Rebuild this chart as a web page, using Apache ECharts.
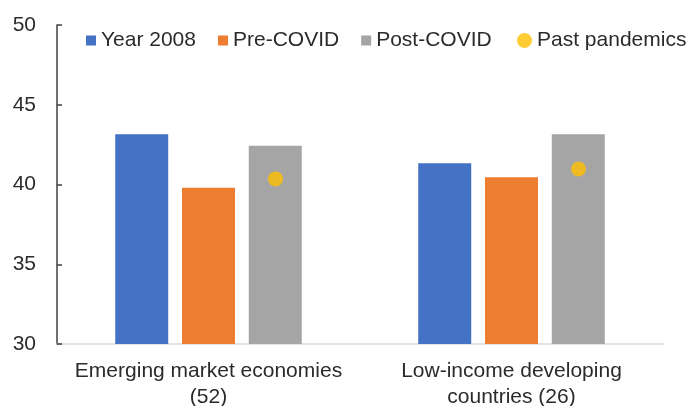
<!DOCTYPE html>
<html><head><meta charset="utf-8">
<script src="https://cdn.jsdelivr.net/npm/echarts@6/dist/echarts.min.js"></script>
<style>html,body{margin:0;padding:0;background:#fff}#c{width:689px;height:406px}</style>
</head><body><div id="c"></div>
<script>
var categories = ['Emerging market economies\n(52)', 'Low-income developing\ncountries (26)'];
var year2008 = [43.15, 41.33];
var preCovid = [39.8, 40.45];
var postCovid = [42.43, 43.15];
var pastPandemics = [40.35, 40.97];
var yTicks = [30, 35, 40, 45, 50];

var font = 'Liberation Sans, Arial, sans-serif';
var txt = '#2b2b2b';
var chart = echarts.init(document.getElementById('c'));
chart.setOption({
  animation: false,
  textStyle: {fontFamily: font},
  grid: {left: 57, right: 26, top: 25, bottom: 62, containLabel: false, outerBoundsMode: 'none'},
  legend: [{
    left: 81, top: 25, itemWidth: 10, itemHeight: 10, itemGap: 22,
    textStyle: {fontSize: 21, color: txt, fontFamily: font},
    data: [{name: 'Year 2008', icon: 'rect'}, {name: 'Pre-COVID', icon: 'rect'}, {name: 'Post-COVID', icon: 'rect'}]
  }, {
    left: 512, top: 25, itemWidth: 15, itemHeight: 15,
    textStyle: {fontSize: 21, color: txt, fontFamily: font},
    data: [{name: 'Past pandemics', icon: 'circle'}]
  }],
  xAxis: {
    type: 'category', data: categories,
    axisLine: {lineStyle: {color: '#d9d9d9', width: 1.5}},
    axisTick: {show: false},
    axisLabel: {fontSize: 21, color: txt, lineHeight: 26, margin: 14, interval: 0}
  },
  yAxis: {
    type: 'value', min: yTicks[0], max: yTicks[yTicks.length-1], interval: 5,
    splitLine: {show: false},
    axisLine: {show: true, lineStyle: {color: '#404040', width: 1.5}},
    axisTick: {show: true, inside: true, length: 5, lineStyle: {color: '#404040', width: 1.5}},
    axisLabel: {fontSize: 21, color: txt, margin: 21}
  },
  series: [
    {name: 'Year 2008', type: 'bar', data: year2008, barWidth: 53, barGap: '26%', itemStyle: {color: '#4472C4'}},
    {name: 'Pre-COVID', type: 'bar', data: preCovid, barWidth: 53, barGap: '26%', itemStyle: {color: '#ED7D31'}},
    {name: 'Post-COVID', type: 'bar', data: postCovid, barWidth: 53, barGap: '26%', itemStyle: {color: '#A5A5A5'}},
    {name: 'Past pandemics', type: 'scatter', data: pastPandemics, symbol: 'circle', symbolSize: 15, symbolOffset: [67, 0], itemStyle: {color: '#FFC000'}, z: 5}
  ]
});
</script></body></html>
